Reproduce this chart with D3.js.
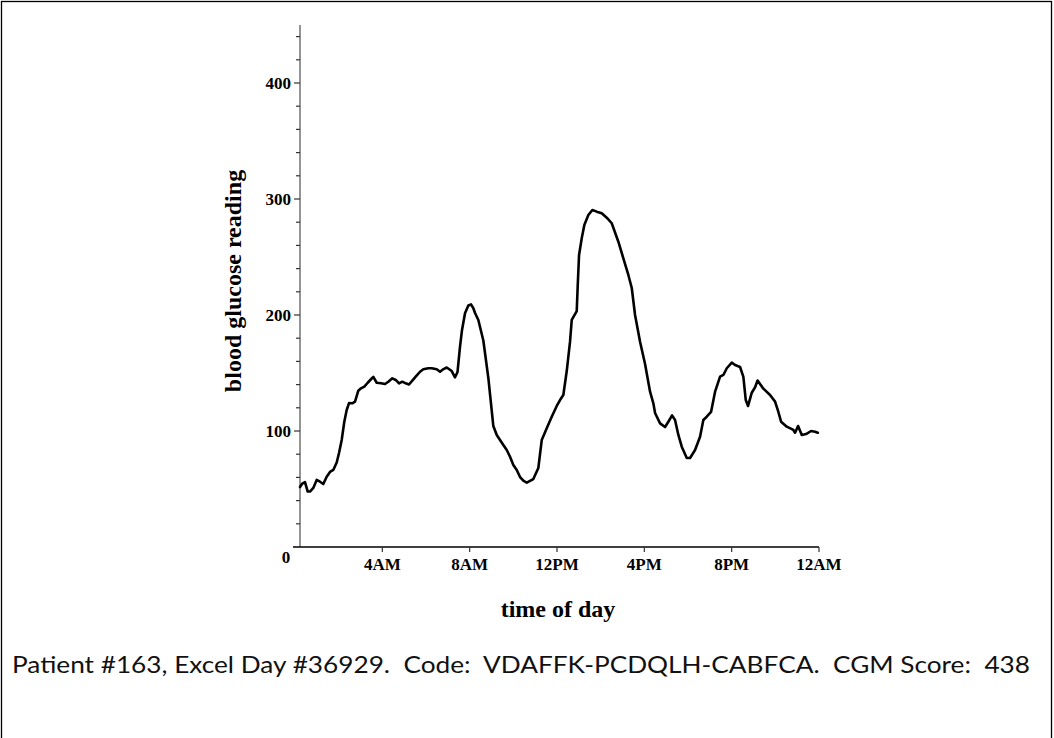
<!DOCTYPE html>
<html>
<head>
<meta charset="utf-8">
<script src="https://cdn.jsdelivr.net/npm/d3@7"></script>
<style>
  html, body { margin: 0; padding: 0; background: #fff; }
  svg { display: block; }
</style>
</head>
<body>
<svg id="chart" width="1054" height="738"></svg>
<script>
// ---- data (hours since midnight, blood glucose) ----
const hours = [0.229,0.334,0.458,0.582,0.687,0.838,0.994,1.145,1.296,1.452,1.603,1.754,1.910,2.016,2.139,2.258,2.368,2.474,2.625,2.749,2.900,3.023,3.175,3.330,3.481,3.587,3.743,3.940,4.123,4.274,4.457,4.613,4.764,4.915,5.071,5.222,5.373,5.529,5.726,5.877,6.106,6.262,6.491,6.642,6.803,6.949,7.178,7.329,7.444,7.558,7.650,7.787,7.939,8.062,8.168,8.246,8.397,8.626,8.855,9.084,9.240,9.391,9.542,9.698,9.849,10.000,10.156,10.307,10.458,10.614,10.916,11.145,11.301,11.530,11.759,11.988,12.139,12.290,12.446,12.597,12.675,12.904,12.950,13.010,13.133,13.252,13.436,13.619,13.820,14.049,14.278,14.507,14.810,15.039,15.268,15.424,15.575,15.804,16.033,16.262,16.413,16.491,16.720,16.949,17.100,17.270,17.407,17.558,17.714,17.943,18.094,18.323,18.552,18.703,18.859,19.056,19.240,19.469,19.620,19.776,20.005,20.156,20.385,20.536,20.646,20.751,20.921,21.072,21.187,21.452,21.759,21.988,22.139,22.263,22.524,22.826,22.904,23.042,23.211,23.408,23.637,23.820,23.944];
const glucose = [51.7,54.7,56.0,47.8,47.8,50.9,57.8,56.3,54.3,60.6,64.7,66.4,72.8,81.0,92.2,108.0,118.1,124.1,123.9,125.3,134.7,136.8,138.2,141.6,144.6,146.6,141.6,141.1,140.5,142.5,145.4,144.0,141.0,142.5,141.1,140.1,143.4,146.8,151.1,153.2,154.1,154.1,153.2,151.1,153.4,154.7,151.7,146.3,150.9,172.7,187.1,201.5,208.2,209.1,205.8,201.7,195.7,178.0,145.7,104.3,96.6,92.2,87.9,83.6,77.8,70.7,66.4,60.3,57.2,55.4,58.6,68.1,92.2,102.3,112.3,121.6,126.7,131.0,151.7,177.0,195.7,203.4,225.9,251.7,266.1,277.6,286.2,290.5,289.1,287.7,283.9,279.1,263.2,248.9,234.5,223.3,200.0,177.0,157.8,133.9,123.9,115.5,106.6,103.4,108.0,113.4,109.5,96.6,86.5,76.7,76.7,83.6,95.1,109.5,112.3,116.4,133.9,146.8,148.3,154.1,158.9,156.9,155.2,146.6,126.7,121.6,133.0,137.7,143.5,136.5,131.0,125.3,116.4,108.0,103.7,100.9,98.5,104.3,96.6,97.4,100.0,99.4,98.5];

const xTickValues = [4, 8, 12, 16, 20, 24];
const xTickLabels = ["4AM", "8AM", "12PM", "4PM", "8PM", "12AM"];
const yMajorTicks = [100, 200, 300, 400];
const yMinorTicks = [20,40,60,80,120,140,160,180,220,240,260,280,320,340,360,380,420,440];
const caption = "Patient #163, Excel Day #36929.  Code:  VDAFFK-PCDQLH-CABFCA.  CGM Score:  438";

// ---- layout ----
const svg = d3.select("#chart");
const x = d3.scaleLinear().domain([0, 24]).range([295, 819]);
const y = d3.scaleLinear().domain([0, 450]).range([547, 25]);
const serif = "'Liberation Serif', 'Times New Roman', serif";

// outer border
svg.append("rect")
  .attr("x", 1.5).attr("y", 1.5).attr("width", 1050).attr("height", 745)
  .attr("fill", "none").attr("stroke", "#000").attr("stroke-width", 1.3);

// y axis (gray line)
const yAxisX = 300;
svg.append("line")
  .attr("x1", yAxisX).attr("x2", yAxisX).attr("y1", y(450)).attr("y2", y(0))
  .attr("stroke", "#7a7a7a").attr("stroke-width", 1.6);
svg.selectAll(".ymaj").data(yMajorTicks).join("line")
  .attr("x1", yAxisX - 6).attr("x2", yAxisX).attr("y1", d => y(d)).attr("y2", d => y(d))
  .attr("stroke", "#333").attr("stroke-width", 1.2);
svg.selectAll(".ymin").data(yMinorTicks).join("line")
  .attr("x1", yAxisX - 4).attr("x2", yAxisX).attr("y1", d => y(d)).attr("y2", d => y(d))
  .attr("stroke", "#333").attr("stroke-width", 1.2);
svg.selectAll(".ylab").data(yMajorTicks).join("text")
  .attr("x", 291).attr("y", d => y(d)).attr("dy", "0.35em")
  .attr("text-anchor", "end")
  .attr("font-family", serif).attr("font-weight", "bold").attr("font-size", 17)
  .text(d => d);
svg.append("text")
  .attr("x", 286).attr("y", y(0) + 10).attr("dy", "0.35em")
  .attr("text-anchor", "middle")
  .attr("font-family", serif).attr("font-weight", "bold").attr("font-size", 17)
  .text("0");

// x axis
svg.append("line")
  .attr("x1", 293).attr("x2", x(24)).attr("y1", y(0)).attr("y2", y(0))
  .attr("stroke", "#000").attr("stroke-width", 1.3);
svg.selectAll(".xt").data(xTickValues).join("line")
  .attr("x1", d => x(d)).attr("x2", d => x(d)).attr("y1", y(0)).attr("y2", y(0) + 5)
  .attr("stroke", "#333").attr("stroke-width", 1.2);
svg.selectAll(".xlab").data(xTickValues).join("text")
  .attr("x", d => x(d)).attr("y", y(0) + 17).attr("dy", "0.35em")
  .attr("text-anchor", "middle")
  .attr("font-family", serif).attr("font-weight", "bold").attr("font-size", 17)
  .text((d, i) => xTickLabels[i]);

// axis titles
svg.append("text")
  .attr("x", 558).attr("y", 609).attr("dy", "0.35em")
  .attr("text-anchor", "middle")
  .attr("font-family", serif).attr("font-weight", "bold").attr("font-size", 24)
  .text("time of day");
svg.append("text")
  .attr("transform", "translate(233,281) rotate(-90)")
  .attr("dy", "0.35em")
  .attr("text-anchor", "middle")
  .attr("font-family", serif).attr("font-weight", "bold").attr("font-size", 24)
  .text("blood glucose reading");

// glucose line
const pts = hours.map((h, i) => [h, glucose[i]]);
svg.append("path")
  .datum(pts)
  .attr("fill", "none").attr("stroke", "#000").attr("stroke-width", 2.6)
  .attr("stroke-linejoin", "round").attr("stroke-linecap", "round")
  .attr("d", d3.line().x(d => x(d[0])).y(d => y(d[1])));

// caption
svg.append("text")
  .attr("x", 12).attr("y", 673)
  .attr("xml:space", "preserve").style("white-space", "pre")
  .attr("font-family", "Lato, 'Open Sans', sans-serif").attr("font-size", 23)
  .attr("textLength", 1018).attr("lengthAdjust", "spacingAndGlyphs")
  .attr("fill", "#111")
  .text(caption);
</script>
</body>
</html>
